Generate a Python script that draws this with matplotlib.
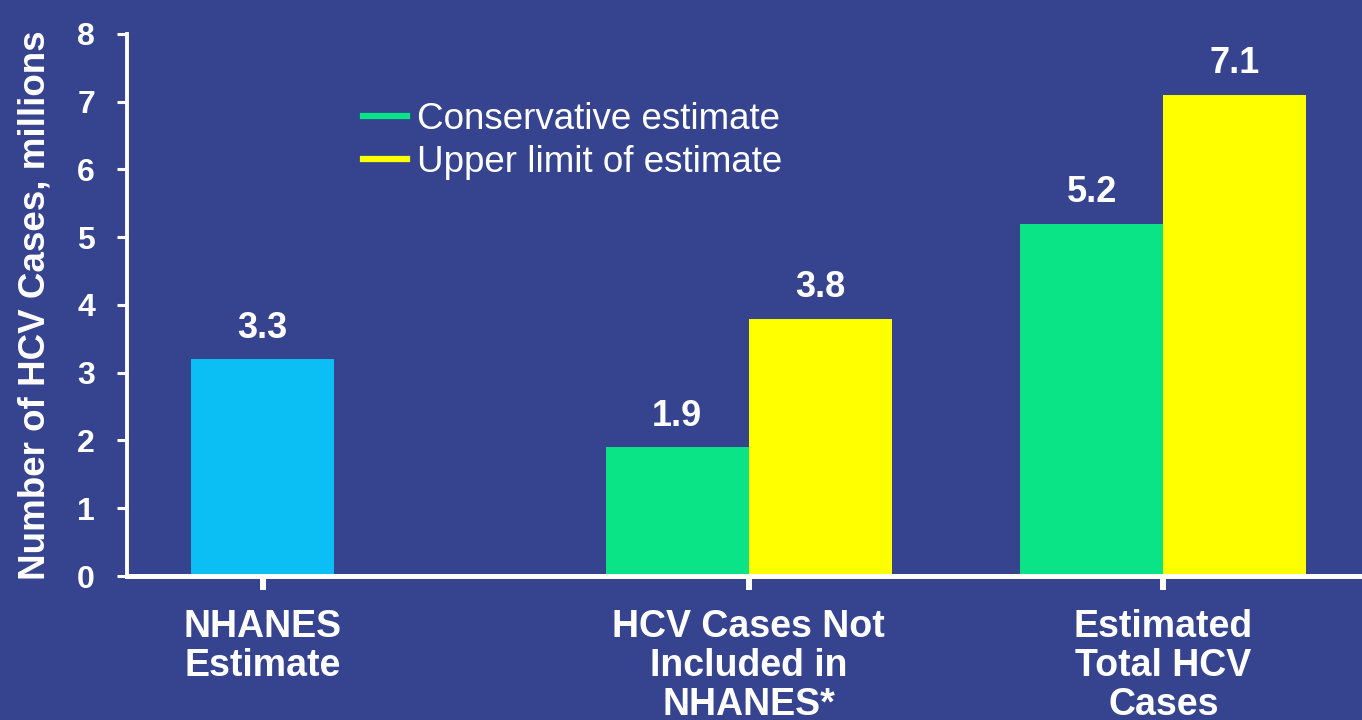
import matplotlib
matplotlib.use("Agg")
from matplotlib import pyplot as plt
from matplotlib.lines import Line2D

bg = "#36448f"
cyan = "#0bbff5"
green = "#0ae386"
yellow = "#ffff00"

categories = ["NHANES\nEstimate", "HCV Cases Not\nIncluded in\nNHANES*", "Estimated\nTotal HCV\nCases"]
nhanes_value = 3.2
nhanes_label = "3.3"
conservative = [1.9, 5.2]
upper = [3.8, 7.1]
conservative_labels = ["1.9", "5.2"]
upper_labels = ["3.8", "7.1"]
series_names = ["Conservative estimate", "Upper limit of estimate"]

plt.rcParams["font.family"] = ["Liberation Sans", "DejaVu Sans"]

fig = plt.figure(figsize=(13.62, 7.2), dpi=100, facecolor=bg)
ax = fig.add_axes([0.0932, 0.2, 0.9068, 0.7528])
ax.set_facecolor(bg)

pos = [0, 3.4, 6.3]
w = 1.0
vsize = 26

ax.bar(pos[0], nhanes_value, width=w, color=cyan)
ax.text(pos[0], nhanes_value + 0.2, nhanes_label, ha="center", va="bottom",
        color="white", fontsize=vsize, fontweight="bold")

for i in range(2):
    xc = pos[i + 1] - w / 2
    xu = pos[i + 1] + w / 2
    ax.bar(xc, conservative[i], width=w, color=green)
    ax.bar(xu, upper[i], width=w, color=yellow)
    ax.text(xc, conservative[i] + 0.2, conservative_labels[i], ha="center", va="bottom",
            color="white", fontsize=vsize, fontweight="bold")
    ax.text(xu, upper[i] + 0.2, upper_labels[i], ha="center", va="bottom",
            color="white", fontsize=vsize, fontweight="bold")

ax.set_xlim(-0.95, 7.69)
ax.set_ylim(0, 8)
ax.set_yticks(range(0, 9))
ax.set_xticks(pos)
ax.set_xticklabels(categories, fontsize=27, fontweight="bold", color="white", linespacing=1.1)

for lab in ax.get_yticklabels():
    lab.set_fontweight("bold")
ax.tick_params(axis="y", colors="white", labelsize=23, length=7, width=2.2, pad=16)
ax.tick_params(axis="x", colors="white", length=10, width=4.3, pad=14)

for s in ["top", "right"]:
    ax.spines[s].set_visible(False)
ax.spines["left"].set_color("white")
ax.spines["left"].set_linewidth(2.8)
ax.spines["bottom"].set_color("white")
ax.spines["bottom"].set_linewidth(3.6)

ax.set_ylabel("Number of HCV Cases, millions", fontsize=26.5, fontweight="bold",
              color="white", labelpad=18)

handles = [Line2D([0], [0], color=green, lw=4.5), Line2D([0], [0], color=yellow, lw=4.5)]
leg = ax.legend(handles, series_names, loc="upper left", bbox_to_anchor=(0.1915, 0.874),
                frameon=False, fontsize=26.5, handlelength=1.17, handletextpad=0.28,
                labelspacing=0.2, borderpad=0, borderaxespad=0)
for t in leg.get_texts():
    t.set_color("white")

fig.savefig("out.png", dpi=100, facecolor=bg)
